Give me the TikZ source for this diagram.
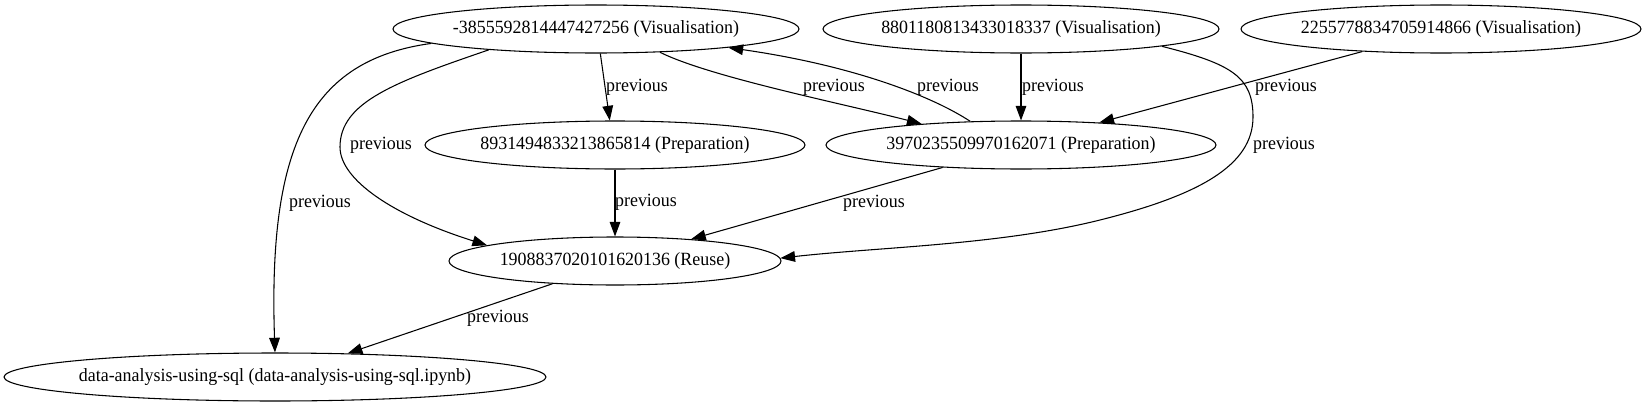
\documentclass[tikz,border=0pt]{standalone}
\usepackage{fontspec}
\setmainfont{Liberation Serif}[FakeStretch=0.96]
\usetikzlibrary{shapes.geometric, arrows.meta}
\begin{document}
\begin{tikzpicture}[x=0.75pt, y=-0.75pt,
  every node/.style={font=\fontsize{14pt}{16pt}\selectfont},
  gnode/.style={draw, ellipse, inner sep=0pt, minimum height=36pt, line width=0.8pt},
  elabel/.style={inner sep=0pt},
  link/.style={draw, line width=0.8pt, -{Triangle[length=11pt,width=8pt]}}
]
\useasboundingbox (0,0) rectangle (1646,407);

% nodes
\node[gnode, minimum width=304.5pt] (A) at (596,29) {\makebox[0pt]{-3855592814447427256 (Visualisation)}};
\node[gnode, minimum width=297pt] (B) at (1021,29) {\makebox[0pt]{8801180813433018337 (Visualisation)}};
\node[gnode, minimum width=300pt] (D) at (1441,29) {\makebox[0pt]{2255778834705914866 (Visualisation)}};
\node[gnode, minimum width=285pt] (E) at (615,145) {\makebox[0pt]{8931494833213865814 (Preparation)}};
\node[gnode, minimum width=292.5pt] (C) at (1021,145) {\makebox[0pt]{3970235509970162071 (Preparation)}};
\node[gnode, minimum width=249pt] (R) at (615,261) {\makebox[0pt]{1908837020101620136 (Reuse)}};
\node[gnode, minimum width=406.5pt] (F) at (275,377) {\makebox[0pt]{data-analysis-using-sql (data-analysis-using-sql.ipynb)}};

% edges
\draw[link] (A.185) .. controls (310,60) and (268,145) .. (F.north);
\draw[link] (A.191) .. controls (395,82) and (340,102) .. (340,147) .. controls (340,180) and (394,216) .. (R.173);
\draw[link] (A.280) -- (E.102);
\draw[link] (A.340) .. controls (710,77) and (840,103) .. (C.168);
\draw[link] (C.155) .. controls (930,95) and (850,65) .. (A.352);
\draw[link] (B.south) -- (C.north);
\draw[link] (D.196) -- (C.16);
\draw[link] (B.353) .. controls (1232,64) and (1253,77) .. (1253,117) .. controls (1253,165) and (1200,195) .. (1100,220) .. controls (1000,245) and (880,247) .. (R.1);
\draw[link] (E.south) -- (R.north);
\draw[link] (C.196) -- (R.16);
\draw[link] (R.200) -- (F.18);

% edge labels
\node[elabel] (l1) at (320,203) {previous};
\node[elabel] (l2) at (381,145) {previous};
\node[elabel] (l3) at (637,87) {previous};
\node[elabel] (l4) at (834,87) {previous};
\node[elabel] (l5) at (948,87) {previous};
\node[elabel] (l6) at (1053,87) {previous};
\node[elabel] (l7) at (1286,87) {previous};
\node[elabel] (l8) at (1284,145) {previous};
\node[elabel] (l9) at (646,202) {previous};
\node[elabel] (l10) at (874,203) {previous};
\node[elabel] (l11) at (498,318) {previous};
\end{tikzpicture}
\end{document}
